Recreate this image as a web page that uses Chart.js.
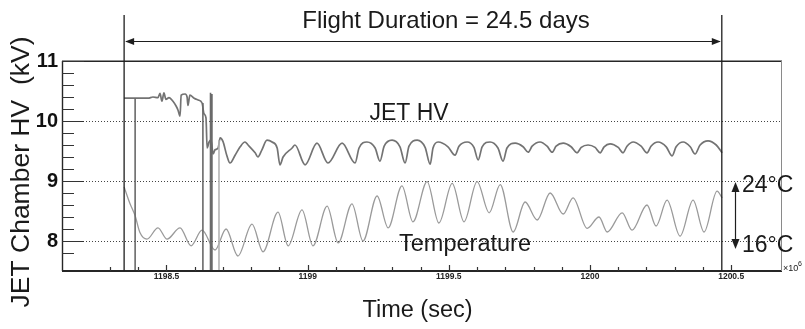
<!DOCTYPE html>
<html><head><meta charset="utf-8">
<script src="https://cdn.jsdelivr.net/npm/chart.js@4.4.1/dist/chart.umd.min.js"></script>
<style>html,body{margin:0;padding:0;background:#fff;overflow:hidden}#wrap{width:805px;height:329px}</style>
</head><body><div id="wrap"><canvas id="c" width="805" height="329"></canvas></div>
<script>
// ---- data (time in units of 10^6 s, values in kV on the HV axis) ----
const hvTime = [1198.350,1198.435,1198.452,1198.470,1198.477,1198.484,1198.491,1198.498,1198.509,1198.523,1198.534,1198.541,1198.548,1198.552,1198.566,1198.573,1198.576,1198.583,1198.598,1198.612,1198.626,1198.633,1198.640,1198.644,1198.651,1198.658,1198.665,1198.672,1198.683,1198.690,1198.700,1198.714,1198.725,1198.743,1198.761,1198.778,1198.789,1198.814,1198.824,1198.838,1198.856,1198.874,1198.892,1198.902,1198.913,1198.945,1198.955,1198.991,1199.033,1199.072,1199.122,1199.168,1199.182,1199.210,1199.239,1199.256,1199.271,1199.299,1199.327,1199.345,1199.359,1199.388,1199.416,1199.434,1199.444,1199.462,1199.497,1199.522,1199.536,1199.565,1199.589,1199.604,1199.618,1199.646,1199.674,1199.692,1199.706,1199.735,1199.763,1199.781,1199.795,1199.823,1199.848,1199.866,1199.880,1199.905,1199.933,1199.954,1199.969,1199.993,1200.018,1200.036,1200.050,1200.071,1200.100,1200.117,1200.131,1200.153,1200.181,1200.202,1200.216,1200.241,1200.270,1200.291,1200.305,1200.330,1200.355,1200.372,1200.390,1200.418,1200.447,1200.468];
const hvKV = [10.38,10.38,10.40,10.39,10.46,10.33,10.47,10.36,10.39,10.33,10.25,10.18,10.08,10.43,10.45,10.40,10.26,10.43,10.38,10.35,10.30,10.12,10.05,9.55,9.65,9.68,9.45,9.52,9.55,9.72,9.66,9.42,9.30,9.43,9.57,9.65,9.60,9.47,9.40,9.52,9.68,9.65,9.55,9.27,9.40,9.55,9.60,9.27,9.63,9.30,9.63,9.30,9.55,9.65,9.55,9.33,9.58,9.68,9.57,9.30,9.58,9.68,9.56,9.28,9.55,9.65,9.57,9.43,9.58,9.65,9.56,9.35,9.57,9.65,9.55,9.33,9.55,9.63,9.57,9.48,9.58,9.65,9.58,9.48,9.58,9.63,9.57,9.47,9.56,9.60,9.56,9.47,9.57,9.62,9.56,9.47,9.58,9.65,9.58,9.47,9.58,9.65,9.57,9.42,9.57,9.65,9.57,9.45,9.60,9.67,9.60,9.47];

const tempTime = [1198.350,1198.371,1198.389,1198.406,1198.431,1198.470,1198.502,1198.548,1198.587,1198.626,1198.672,1198.711,1198.753,1198.803,1198.842,1198.895,1198.931,1198.980,1199.019,1199.069,1199.108,1199.157,1199.196,1199.246,1199.285,1199.334,1199.373,1199.423,1199.465,1199.512,1199.554,1199.600,1199.643,1199.682,1199.728,1199.770,1199.813,1199.859,1199.905,1199.940,1199.990,1200.032,1200.061,1200.114,1200.149,1200.202,1200.234,1200.273,1200.319,1200.365,1200.404,1200.450,1200.468];
const tempKV = [8.90,8.62,8.42,8.14,8.03,8.22,8.03,8.22,7.92,8.18,7.85,8.20,7.75,8.28,7.82,8.48,7.92,8.52,7.92,8.58,7.97,8.62,8.00,8.75,8.22,8.92,8.32,8.99,8.30,8.96,8.32,8.99,8.47,8.94,8.15,8.65,8.35,8.80,8.45,8.72,8.21,8.40,8.15,8.47,8.18,8.60,8.25,8.68,8.08,8.68,8.15,8.83,8.72];

// HV drop-outs (readings fall to zero) and one temperature glitch
const hvDropTime = [1198.389,1198.629,1198.656,1198.661];
const hvDropTop = [10.38,10.30,10.47,10.45];
const tempDropTime = [1198.686];
const tempDropTop = [9.68];

const flightStart = 1198.350;   // 10^6 s
const flightDays = 24.5;
const xTickLabels = [1198.5, 1199, 1199.5, 1200, 1200.5];
const yTickLabels = [8, 9, 10, 11];

// ---- build datasets ----
const pts = (t, v) => t.map((x, i) => ({x, y: v[i]}));
const drops = (t, top) => t.flatMap((x, i) => [{x, y: top[i]}, {x, y: 0}, {x, y: null}]);

const FONT = '"Liberation Sans", Arial, Helvetica, sans-serif';
const near = (v, r) => Math.abs(v - r) < 1e-6;

const annot = {
  id: 'annot',
  afterDatasetsDraw(chart) {
    const {ctx, chartArea: a, scales: {x, y}} = chart;
    ctx.save();
    // frame
    ctx.strokeStyle = '#262626';
    ctx.lineWidth = 1.4;
    ctx.beginPath();
    ctx.moveTo(a.left, a.top + 0.3); ctx.lineTo(a.right, a.top + 0.3);
    ctx.moveTo(a.left + 0.5, a.top); ctx.lineTo(a.left + 0.5, a.bottom);
    ctx.stroke();
    ctx.lineWidth = 1.8;
    ctx.beginPath(); ctx.moveTo(a.left, a.bottom); ctx.lineTo(a.right, a.bottom); ctx.stroke();
    ctx.lineWidth = 1;
    ctx.strokeStyle = '#8a8a8a';
    ctx.beginPath(); ctx.moveTo(a.right - 0.5, a.top); ctx.lineTo(a.right - 0.5, a.bottom); ctx.stroke();

    // y ticks (inward)
    ctx.strokeStyle = '#333';
    ctx.lineWidth = 1.2;
    ctx.beginPath();
    y.ticks.forEach(t => {
      const v = t.value;
      if (v <= y.min + 1e-6) return;
      const major = near(v, Math.round(v));
      const py = Math.round(y.getPixelForValue(v)) + 0.5;
      ctx.moveTo(a.left, py); ctx.lineTo(a.left + (major ? 22 : 12), py);
    });
    ctx.stroke();
    // x ticks (inward)
    ctx.beginPath();
    x.ticks.forEach(t => {
      const v = t.value;
      if (!near(v * 10, Math.round(v * 10))) return;
      const major = near(v * 2, Math.round(v * 2));
      const px = Math.round(x.getPixelForValue(v)) + 0.5;
      ctx.moveTo(px, a.bottom); ctx.lineTo(px, a.bottom - (major ? 6 : 4));
    });
    ctx.stroke();

    // flight start / end markers
    const xs = x.getPixelForValue(flightStart);
    const xe = x.getPixelForValue(flightStart + flightDays * 86400 / 1e6);
    ctx.strokeStyle = '#1e1e1e';
    ctx.lineWidth = 1.3;
    ctx.beginPath();
    ctx.moveTo(xs, 15); ctx.lineTo(xs, a.bottom);
    ctx.moveTo(xe, 15); ctx.lineTo(xe, a.bottom);
    ctx.stroke();
    // duration arrow
    const ay = 41.5;
    ctx.lineWidth = 1.2;
    ctx.beginPath(); ctx.moveTo(xs + 2, ay); ctx.lineTo(xe - 2, ay); ctx.stroke();
    ctx.fillStyle = '#1e1e1e';
    ctx.beginPath(); ctx.moveTo(xs + 1, ay); ctx.lineTo(xs + 10, ay - 3.5); ctx.lineTo(xs + 10, ay + 3.5); ctx.closePath(); ctx.fill();
    ctx.beginPath(); ctx.moveTo(xe - 1, ay); ctx.lineTo(xe - 10, ay - 3.5); ctx.lineTo(xe - 10, ay + 3.5); ctx.closePath(); ctx.fill();

    // temperature scale arrow
    const tx = 735.5, t1 = 182, t2 = 249;
    ctx.beginPath(); ctx.moveTo(tx, t1 + 4); ctx.lineTo(tx, t2 - 4); ctx.stroke();
    ctx.beginPath(); ctx.moveTo(tx, t1); ctx.lineTo(tx - 4, t1 + 10); ctx.lineTo(tx + 4, t1 + 10); ctx.closePath(); ctx.fill();
    ctx.beginPath(); ctx.moveTo(tx, t2); ctx.lineTo(tx - 4, t2 - 10); ctx.lineTo(tx + 4, t2 - 10); ctx.closePath(); ctx.fill();

    // texts
    ctx.fillStyle = '#1a1a1a';
    ctx.textBaseline = 'alphabetic';
    ctx.textAlign = 'center';
    ctx.font = '24px ' + FONT;
    ctx.fillText('Flight Duration = 24.5 days', 446, 28);
    ctx.font = '23px ' + FONT;
    ctx.fillText('JET HV', 409, 120);
    ctx.font = '23.5px ' + FONT;
    ctx.fillText('Temperature', 465, 251);
    ctx.textAlign = 'left';
    ctx.font = '23px ' + FONT;
    ctx.fillText('24°C', 742, 192);
    ctx.fillText('16°C', 742, 252);
    ctx.font = '9px ' + FONT;
    ctx.fillText('×10', 783, 271);
    ctx.font = '7px ' + FONT;
    ctx.fillText('6', 798, 266);

    // axis titles
    ctx.textAlign = 'center';
    ctx.font = '23.5px ' + FONT;
    ctx.fillText('Time (sec)', 417.5, 317);
    ctx.save();
    ctx.translate(22, 172);
    ctx.rotate(-Math.PI / 2);
    ctx.textBaseline = 'middle';
    ctx.font = '26.5px ' + FONT;
    ctx.fillText('JET Chamber HV  (kV)', 0, 0);
    ctx.restore();
    ctx.restore();
  }
};

new Chart(document.getElementById('c'), {
  type: 'line',
  data: {
    datasets: [
      {label: 'HV drop-outs', data: drops(hvDropTime, hvDropTop), borderColor: '#6a6a6a', borderWidth: 1.6, pointRadius: 0, tension: 0, spanGaps: false},
      {label: 'Temperature glitch', data: drops(tempDropTime, tempDropTop), borderColor: '#b4b4b4', borderWidth: 1.6, pointRadius: 0, tension: 0, spanGaps: false},
      {label: 'Temperature', data: pts(tempTime, tempKV), borderColor: '#9a9a9a', borderWidth: 1.3, pointRadius: 0, cubicInterpolationMode: 'monotone'},
      {label: 'JET HV', data: pts(hvTime, hvKV), borderColor: '#737373', borderWidth: 1.7, pointRadius: 0, cubicInterpolationMode: 'monotone'}
    ]
  },
  options: {
    responsive: false,
    animation: false,
    events: [],
    layout: {padding: {left: 0, top: 61, right: 23, bottom: 0}},
    plugins: {legend: {display: false}, tooltip: {enabled: false}},
    scales: {
      x: {
        type: 'linear', min: 1198.13, max: 1200.68,
        afterFit: s => { s.height = 58; },
        grid: {display: false, drawTicks: false},
        border: {display: false},
        ticks: {
          stepSize: 0.1, autoSkip: false, maxRotation: 0, padding: 1,
          font: {family: FONT, size: 8.5, weight: 'bold'}, color: '#222',
          callback: v => { const h = Math.round(v * 2) / 2; return near(v, h) && xTickLabels.includes(h) ? String(h) : ''; }
        },
        title: {display: false}
      },
      y: {
        min: 7.5, max: 11,
        afterFit: s => { s.width = 62; },
        grid: {
          drawTicks: false, lineWidth: 1,
          color: c => { const v = c.tick ? c.tick.value : NaN; const r = Math.round(v); return (near(v, r) && r > 7.5 && r < 11) ? '#444' : 'rgba(0,0,0,0)'; }
        },
        border: {display: false, dash: [1, 2]},
        ticks: {
          stepSize: 0.2, autoSkip: false, padding: 4,
          font: {family: FONT, size: 20, weight: 'bold'}, color: '#111',
          callback: v => { const r = Math.round(v); return near(v, r) && yTickLabels.includes(r) ? String(r) : ''; }
        },
        title: {display: false}
      }
    }
  },
  plugins: [annot]
});
</script>
</body></html>
